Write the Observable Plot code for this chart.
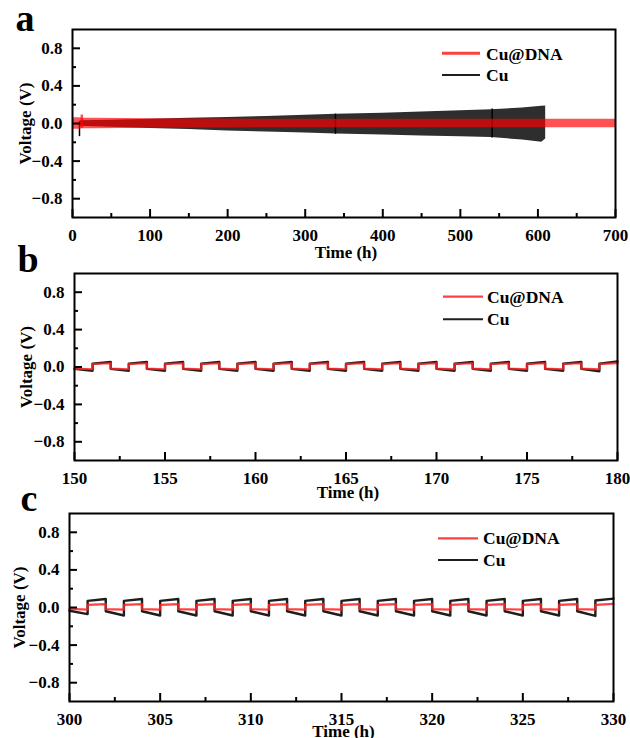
<!DOCTYPE html>
<html>
<head>
<meta charset="utf-8">
<script src="https://cdn.jsdelivr.net/npm/d3@7"></script>
<script src="https://cdn.jsdelivr.net/npm/@observablehq/plot@0.6"></script>
<style>
  html, body { margin: 0; padding: 0; background: #fff; }
  #wrap { position: relative; width: 630px; height: 738px; overflow: hidden; background: #fff;
          font-family: "Liberation Serif", "Times New Roman", serif; font-weight: bold; }
  .panel { position: absolute; left: 0; }
  .legend { position: absolute; left: 0; top: 0; }
</style>
</head>
<body>
<div id="wrap"></div>
<script>
// ---------------- shared ticks ----------------
const voltageTicks = [-0.8, -0.4, 0, 0.4, 0.8];
const voltageTickLabels = ["−0.8", "−0.4", "0.0", "0.4", "0.8"];
const voltageMinorTicks = [-0.6, -0.2, 0.2, 0.6];

const timeTicksA = [0, 100, 200, 300, 400, 500, 600, 700];
const timeMinorA = [50, 150, 250, 350, 450, 550, 650];
const timeTicksB = [150, 155, 160, 165, 170, 175, 180];
const timeMinorB = [152.5, 157.5, 162.5, 167.5, 172.5, 177.5];
const timeTicksC = [300, 305, 310, 315, 320, 325, 330];
const timeMinorC = [302.5, 307.5, 312.5, 317.5, 322.5, 327.5];

const seriesNames = ["Cu@DNA", "Cu"];
const axisLabelX = "Time (h)";
const axisLabelY = "Voltage (V)";

// ---------------- panel a: long-term envelope ----------------
const cuEnvTime  = [10, 50, 100, 150, 200, 250, 300, 340, 400, 450, 500, 540, 580, 605, 610];
const cuEnvUpper = [0.03, 0.035, 0.045, 0.055, 0.064, 0.075, 0.088, 0.098, 0.11, 0.122, 0.135, 0.146, 0.165, 0.183, 0.187];
const cuEnvLower = [-0.03, -0.04, -0.052, -0.065, -0.08, -0.09, -0.1, -0.112, -0.122, -0.132, -0.141, -0.15, -0.175, -0.2, -0.165];
const cuSpikeTime = [9, 339, 541];
const cuSpikeHigh = [0.02, 0.1, 0.155];
const cuSpikeLow  = [-0.14, -0.115, -0.155];

const dnaEnvTime  = [0, 8, 14, 30, 100, 200, 300, 610, 700];
const dnaEnvUpper = [0.06, 0.06, 0.055, 0.055, 0.05, 0.047, 0.045, 0.045, 0.045];
const dnaEnvLower = [-0.06, -0.06, -0.055, -0.055, -0.05, -0.047, -0.045, -0.045, -0.045];
const dnaSpikeTime = [12];
const dnaSpikeHigh = [0.09];
const dnaSpikeLow  = [-0.05];

// ---------------- panel b: 150-180 h (half-cycle boundaries and levels) ----------------
const hoursB = [150,151,152,153,154,155,156,157,158,159,160,161,162,163,164,165,166,167,168,169,170,171,172,173,174,175,176,177,178,179,180];
const cuStartB  = [-0.02,0.035,-0.02,0.035,-0.02,0.035,-0.02,0.035,-0.02,0.035,-0.02,0.035,-0.02,0.035,-0.02,0.035,-0.02,0.035,-0.02,0.035,-0.02,0.035,-0.02,0.035,-0.02,0.035,-0.02,0.035,-0.02,0.035];
const cuEndB    = [-0.04,0.055,-0.04,0.055,-0.04,0.055,-0.04,0.055,-0.04,0.055,-0.04,0.055,-0.04,0.055,-0.04,0.055,-0.04,0.055,-0.04,0.055,-0.04,0.055,-0.04,0.055,-0.04,0.055,-0.04,0.055,-0.045,0.06];
const dnaStartB = [-0.018,0.032,-0.018,0.032,-0.018,0.032,-0.018,0.032,-0.018,0.032,-0.018,0.032,-0.018,0.032,-0.018,0.032,-0.018,0.032,-0.018,0.032,-0.018,0.032,-0.018,0.032,-0.018,0.032,-0.018,0.032,-0.018,0.032];
const dnaEndB   = [-0.024,0.04,-0.024,0.04,-0.024,0.04,-0.024,0.04,-0.024,0.04,-0.024,0.04,-0.024,0.04,-0.024,0.04,-0.024,0.04,-0.024,0.04,-0.024,0.04,-0.024,0.04,-0.024,0.04,-0.024,0.04,-0.024,0.042];

// ---------------- panel c: 300-330 h ----------------
const hoursC = [300,301,302,303,304,305,306,307,308,309,310,311,312,313,314,315,316,317,318,319,320,321,322,323,324,325,326,327,328,329,330];
const cuStartC  = [-0.035,0.07,-0.04,0.07,-0.04,0.07,-0.04,0.07,-0.04,0.07,-0.04,0.07,-0.04,0.07,-0.04,0.07,-0.04,0.07,-0.04,0.07,-0.04,0.07,-0.04,0.07,-0.04,0.07,-0.04,0.07,-0.04,0.075];
const cuEndC    = [-0.07,0.09,-0.085,0.09,-0.085,0.09,-0.085,0.09,-0.085,0.09,-0.085,0.09,-0.085,0.09,-0.085,0.09,-0.085,0.09,-0.085,0.09,-0.085,0.09,-0.085,0.09,-0.085,0.09,-0.085,0.09,-0.09,0.095];
const dnaStartC = [-0.015,0.028,-0.018,0.028,-0.018,0.028,-0.018,0.028,-0.018,0.028,-0.018,0.028,-0.018,0.028,-0.018,0.028,-0.018,0.028,-0.018,0.028,-0.018,0.028,-0.018,0.028,-0.018,0.028,-0.018,0.028,-0.018,0.028];
const dnaEndC   = [-0.022,0.036,-0.022,0.036,-0.022,0.036,-0.022,0.036,-0.022,0.036,-0.022,0.036,-0.022,0.036,-0.022,0.036,-0.022,0.036,-0.022,0.036,-0.022,0.036,-0.022,0.036,-0.022,0.036,-0.022,0.036,-0.022,0.038];

// ---------------- helpers ----------------
const zip3 = (ts, lo, hi) => ts.map((t, i) => ({t, lo: lo[i], hi: hi[i]}));
function squareWave(hours, starts, ends) {
  const pts = [];
  for (let i = 0; i < starts.length; i++) {
    pts.push({t: hours[i], v: starts[i]}, {t: hours[i + 1], v: ends[i]});
  }
  return pts;
}
const vFmt = d => voltageTickLabels[voltageTicks.indexOf(d)];
const FONT = "'Liberation Serif', 'Times New Roman', serif";

function makePanel(cfg) {
  const svg = Plot.plot({
    width: 630,
    height: cfg.height,
    marginTop: cfg.mt, marginBottom: cfg.mb, marginLeft: cfg.ml, marginRight: cfg.mr,
    style: {background: "transparent", fontFamily: FONT, fontWeight: "bold", fontSize: "17px", color: "#000", overflow: "visible"},
    x: {domain: cfg.xDomain},
    y: {domain: [-1, 1]},
    marks: [
      ...cfg.marks,
      Plot.frame({stroke: "#000", strokeWidth: 2}),
      Plot.axisX(cfg.xMajor, {anchor: "bottom", tickSize: -8, tickPadding: 19, tickFormat: d => String(d), label: null, strokeWidth: 2}),
      Plot.axisX(cfg.xMinor, {anchor: "bottom", tickSize: -4, tickFormat: () => "", label: null, strokeWidth: 2}),
      Plot.axisY(voltageTicks, {anchor: "left", tickSize: -8, tickPadding: 18, tickFormat: vFmt, label: null, strokeWidth: 2}),
      Plot.axisY(voltageMinorTicks, {anchor: "left", tickSize: -4, tickFormat: () => "", label: null, strokeWidth: 2}),
      Plot.text([axisLabelX], {frameAnchor: "bottom", dx: 2, dy: cfg.xLabelDy, textAnchor: "middle", lineAnchor: "middle", text: d => d, fontSize: 17, fontWeight: "bold"}),
      Plot.text([axisLabelY], {frameAnchor: "left", dx: cfg.yLabelDx, rotate: -90, textAnchor: "middle", lineAnchor: "middle", text: d => d, fontSize: 17, fontWeight: "bold"}),
      Plot.text([cfg.letter], {frameAnchor: "top-left", dx: cfg.letterDx, dy: cfg.letterDy, textAnchor: "start", lineAnchor: "bottom", text: d => d, fontSize: 38, fontWeight: "bold"})
    ]
  });
  svg.classList.add("panel");
  svg.style.top = cfg.top + "px";
  return svg;
}

const wrap = document.getElementById("wrap");

// panel a
wrap.appendChild(makePanel({
  top: 0, height: 268, mt: 29, mb: 51, ml: 72, mr: 15,
  xDomain: [0, 700], xMajor: timeTicksA, xMinor: timeMinorA,
  xLabelDy: 35, yLabelDx: -47, letter: "a", letterDx: -57, letterDy: 1,
  marks: [
    Plot.areaY(zip3(cuEnvTime, cuEnvLower, cuEnvUpper), {x: "t", y1: "lo", y2: "hi", fill: "#2e2e2e"}),
    Plot.ruleX(zip3(cuSpikeTime, cuSpikeLow, cuSpikeHigh), {x: "t", y1: "lo", y2: "hi", stroke: "#000", strokeWidth: 1.5}),
    Plot.areaY(zip3(dnaEnvTime, dnaEnvLower, dnaEnvUpper), {x: "t", y1: "lo", y2: "hi", fill: "#ff0000", fillOpacity: 0.68}),
    Plot.ruleX(zip3(dnaSpikeTime, dnaSpikeLow, dnaSpikeHigh), {x: "t", y1: "lo", y2: "hi", stroke: "#ff0000", strokeOpacity: 0.68, strokeWidth: 2.5})
  ]
}));

// panel b
wrap.appendChild(makePanel({
  top: 236, height: 270, mt: 37, mb: 46, ml: 74, mr: 13,
  xDomain: [150, 180], xMajor: timeTicksB, xMinor: timeMinorB,
  xLabelDy: 32, yLabelDx: -48, letter: "b", letterDx: -57, letterDy: -2,
  marks: [
    Plot.line(squareWave(hoursB, cuStartB, cuEndB), {x: "t", y: "v", stroke: "#1e1e1e", strokeWidth: 2.4}),
    Plot.line(squareWave(hoursB, dnaStartB, dnaEndB), {x: "t", y: "v", stroke: "#ff2020", strokeOpacity: 0.85, strokeWidth: 2.2})
  ]
}));

// panel c
wrap.appendChild(makePanel({
  top: 478, height: 260, mt: 35, mb: 37, ml: 69, mr: 17,
  xDomain: [300, 330], xMajor: timeTicksC, xMinor: timeMinorC,
  xLabelDy: 30, yLabelDx: -50, letter: "c", letterDx: -49, letterDy: -3,
  marks: [
    Plot.line(squareWave(hoursC, cuStartC, cuEndC), {x: "t", y: "v", stroke: "#1e1e1e", strokeWidth: 2.4}),
    Plot.line(squareWave(hoursC, dnaStartC, dnaEndC), {x: "t", y: "v", stroke: "#ff2020", strokeOpacity: 0.85, strokeWidth: 2.2})
  ]
}));

// legends (overlay)
const legendSpecs = [
  {x1: 442, x2: 480, tx: 486, yRed: 53.3, yBlack: 75, b1: 59.5, b2: 81, redW: 3},
  {x1: 443, x2: 483, tx: 487, yRed: 296.7, yBlack: 319.3, b1: 303.3, b2: 325, redW: 2.2},
  {x1: 438, x2: 478, tx: 483, yRed: 538.3, yBlack: 560, b1: 543.5, b2: 565.7, redW: 2.2}
];
const seriesColors = ["#ff4040", "#1e1e1e"];
const lg = d3.select(wrap).append("svg").attr("class", "legend").attr("width", 630).attr("height", 738)
  .style("font-family", FONT).style("font-weight", "bold").style("font-size", "17.5px");
legendSpecs.forEach(s => {
  lg.append("line").attr("x1", s.x1).attr("x2", s.x2).attr("y1", s.yRed).attr("y2", s.yRed)
    .attr("stroke", seriesColors[0]).attr("stroke-width", s.redW);
  lg.append("line").attr("x1", s.x1).attr("x2", s.x2).attr("y1", s.yBlack).attr("y2", s.yBlack)
    .attr("stroke", seriesColors[1]).attr("stroke-width", 2);
  lg.append("text").attr("x", s.tx).attr("y", s.b1).text(seriesNames[0]);
  lg.append("text").attr("x", s.tx).attr("y", s.b2).text(seriesNames[1]);
});
</script>
</body>
</html>
